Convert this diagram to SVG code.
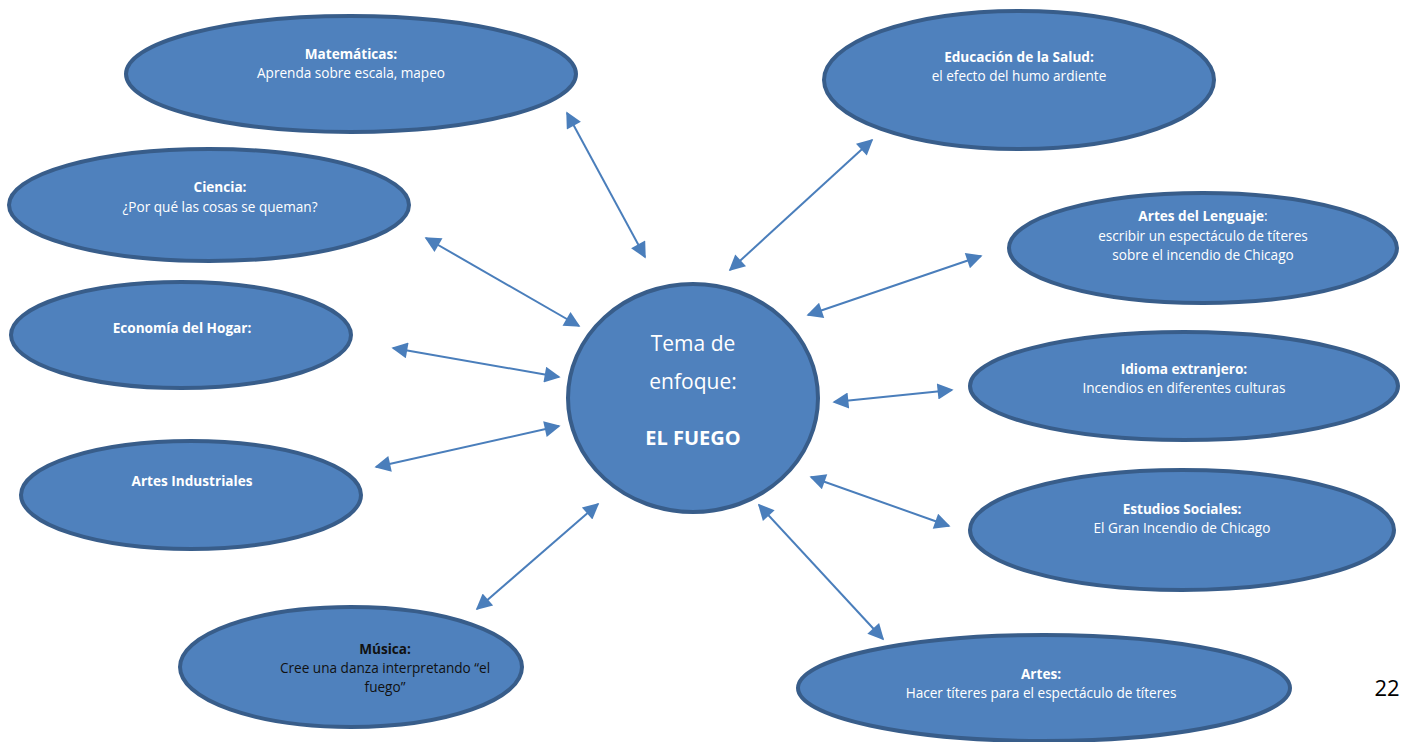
<svg xmlns="http://www.w3.org/2000/svg" width="1401" height="742" viewBox="0 0 1401 742">
<style>
.n{fill:#4f81bd;stroke:#385d8a;stroke-width:4}
.t{font-family:"Open Sans","Liberation Sans",sans-serif;font-size:13.6px;fill:#ffffff;text-anchor:middle}
.b{font-weight:bold}
.k{fill:#111111}
.c{stroke:#4a7ebb;stroke-width:2;fill:none;marker-start:url(#ah);marker-end:url(#ah)}
</style>
<defs>
<marker id="ah" viewBox="0 0 10 10" refX="9" refY="5" markerWidth="10" markerHeight="8" orient="auto-start-reverse" markerUnits="strokeWidth">
<path d="M0,0 L10,5 L0,10 z" fill="#4a7ebb"/>
</marker>
</defs>
<rect width="1401" height="742" fill="#ffffff"/>
<g id="connectors">
<line class="c" x1="567" y1="113" x2="645" y2="257"/>
<line class="c" x1="872" y1="140" x2="730" y2="270"/>
<line class="c" x1="426" y1="238" x2="579" y2="326"/>
<line class="c" x1="981" y1="256" x2="808" y2="315"/>
<line class="c" x1="393" y1="348" x2="559" y2="377"/>
<line class="c" x1="834" y1="402" x2="952" y2="390"/>
<line class="c" x1="376" y1="467" x2="559" y2="426"/>
<line class="c" x1="811" y1="477" x2="949" y2="526"/>
<line class="c" x1="477" y1="609" x2="598" y2="504"/>
<line class="c" x1="759" y1="505" x2="883" y2="639"/>
</g>
<g id="center">
<ellipse class="n" cx="693" cy="398" rx="125" ry="114"/>
<text class="t" x="693" y="351" style="font-size:21px">Tema de</text>
<text class="t" x="693" y="389" style="font-size:21px">enfoque:</text>
<text class="t b" x="693" y="445" style="font-size:20px">EL FUEGO</text>
</g>
<g id="matematicas">
<ellipse class="n" cx="351" cy="74" rx="225" ry="58"/>
<text class="t b" x="351" y="59">Matemáticas:</text>
<text class="t" x="351" y="78">Aprenda sobre escala, mapeo</text>
</g>
<g id="salud">
<ellipse class="n" cx="1019" cy="80" rx="195" ry="69"/>
<text class="t b" x="1019" y="62">Educación de la Salud:</text>
<text class="t" x="1019" y="81">el efecto del humo ardiente</text>
</g>
<g id="ciencia">
<ellipse class="n" cx="209" cy="205" rx="200" ry="56"/>
<text class="t b" x="220" y="192">Ciencia:</text>
<text class="t" x="220" y="212">¿Por qué las cosas se queman?</text>
</g>
<g id="lenguaje">
<ellipse class="n" cx="1203" cy="248" rx="194" ry="55"/>
<text class="t" x="1203" y="221"><tspan class="b">Artes del Lenguaje</tspan>:</text>
<text class="t" x="1203" y="241">escribir un espectáculo de títeres</text>
<text class="t" x="1203" y="260">sobre el incendio de Chicago</text>
</g>
<g id="economia">
<ellipse class="n" cx="181" cy="335" rx="170" ry="53"/>
<text class="t b" x="182" y="333">Economía del Hogar:</text>
</g>
<g id="idioma">
<ellipse class="n" cx="1184" cy="386" rx="214" ry="54"/>
<text class="t b" x="1184" y="374">Idioma extranjero:</text>
<text class="t" x="1184" y="393">Incendios en diferentes culturas</text>
</g>
<g id="industriales">
<ellipse class="n" cx="191" cy="495" rx="170" ry="54"/>
<text class="t b" x="192" y="486">Artes Industriales</text>
</g>
<g id="estudios">
<ellipse class="n" cx="1182" cy="530" rx="212" ry="60"/>
<text class="t b" x="1182" y="514">Estudios Sociales:</text>
<text class="t" x="1182" y="533">El Gran Incendio de Chicago</text>
</g>
<g id="musica">
<ellipse class="n" cx="351" cy="667" rx="171" ry="60"/>
<text class="t b k" x="385" y="654">Música:</text>
<text class="t k" x="385" y="673">Cree una danza interpretando “el</text>
<text class="t k" x="385" y="692">fuego”</text>
</g>
<g id="artes">
<ellipse class="n" cx="1044" cy="688" rx="246" ry="53"/>
<text class="t b" x="1041" y="679">Artes:</text>
<text class="t" x="1041" y="698">Hacer títeres para el espectáculo de títeres</text>
</g>
<text x="1387" y="696" style="font-family:'Open Sans','Liberation Sans',sans-serif;font-size:22px;fill:#000000;text-anchor:middle">22</text>
</svg>
